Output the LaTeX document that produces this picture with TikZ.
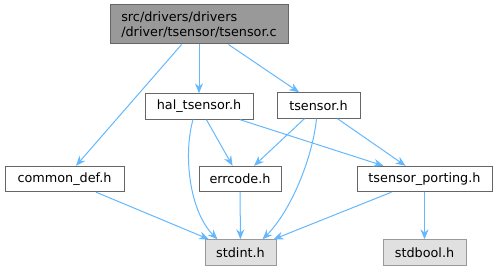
\documentclass[tikz,border=0pt]{standalone}
\usepackage{fontspec}
\setmainfont{DejaVu Sans}
\usetikzlibrary{arrows.meta, positioning, calc}
\definecolor{inclBlue}{HTML}{63B8FF}
\definecolor{boxLine}{HTML}{666666}
\definecolor{sysLine}{HTML}{999999}
\definecolor{sysFill}{HTML}{E0E0E0}
\definecolor{rootFill}{HTML}{999999}

\begin{document}
\begin{tikzpicture}[x=0.75pt, y=-0.75pt, font=\fontsize{9.6}{11.2}\selectfont,
    >={Stealth[length=7.5pt, width=6pt]},
    incbox/.style={draw=boxLine, fill=white, line width=0.75pt, inner sep=0pt,
                   minimum height=19pt},
    sysbox/.style={incbox, draw=sysLine, fill=sysFill},
    incl/.style={->, draw=inclBlue, line width=0.75pt, fill=none}]
  \useasboundingbox (0,0) rectangle (497,271);

  % file nodes
  \node[incbox, fill=rootFill, minimum width=133.5pt, minimum height=29.25pt,
        align=left] (root) at (199,24.5)
    {src/drivers/drivers\\/driver/tsensor/tsensor.c};
  \node[incbox, minimum width=81pt]     (hal)     at (199,106.5) {hal\_tsensor.h};
  \node[incbox, minimum width=62.25pt]  (tsensor) at (318.5,105.5) {tsensor.h};
  \node[incbox, minimum width=89.25pt]  (common)  at (64.5,179) {common\_def.h};
  \node[incbox, minimum width=61.5pt]   (errcode) at (240,179) {errcode.h};
  \node[incbox, minimum width=101.25pt] (porting) at (424.5,179) {tsensor\_porting.h};
  \node[sysbox, minimum width=53.25pt]  (stdint)  at (240.5,252.5) {stdint.h};
  \node[sysbox, minimum width=62.25pt]  (stdbool) at (424.5,252.5) {stdbool.h};

  % includes
  \draw[incl] (root) -- (common);
  \draw[incl] (root) -- (hal);
  \draw[incl] (root) -- (tsensor);
  \draw[incl] (hal) -- (errcode);
  \draw[incl] (hal) -- (porting);
  \draw[incl] ($(hal.south)+(-6,0)$) .. controls +(-10,35) and +(-28,-28) .. ($(stdint.north west)+(13,0)$);
  \draw[incl] (tsensor) -- (errcode);
  \draw[incl] (tsensor) -- (porting);
  \draw[incl] ($(tsensor.south)+(-2,0)$) .. controls +(-4,40) and +(28,-28) .. ($(stdint.north east)+(-14,0)$);
  \draw[incl] (common) -- (stdint);
  \draw[incl] (errcode) -- (stdint);
  \draw[incl] (porting) -- (stdint);
  \draw[incl] (porting) -- (stdbool);
\end{tikzpicture}
\end{document}
